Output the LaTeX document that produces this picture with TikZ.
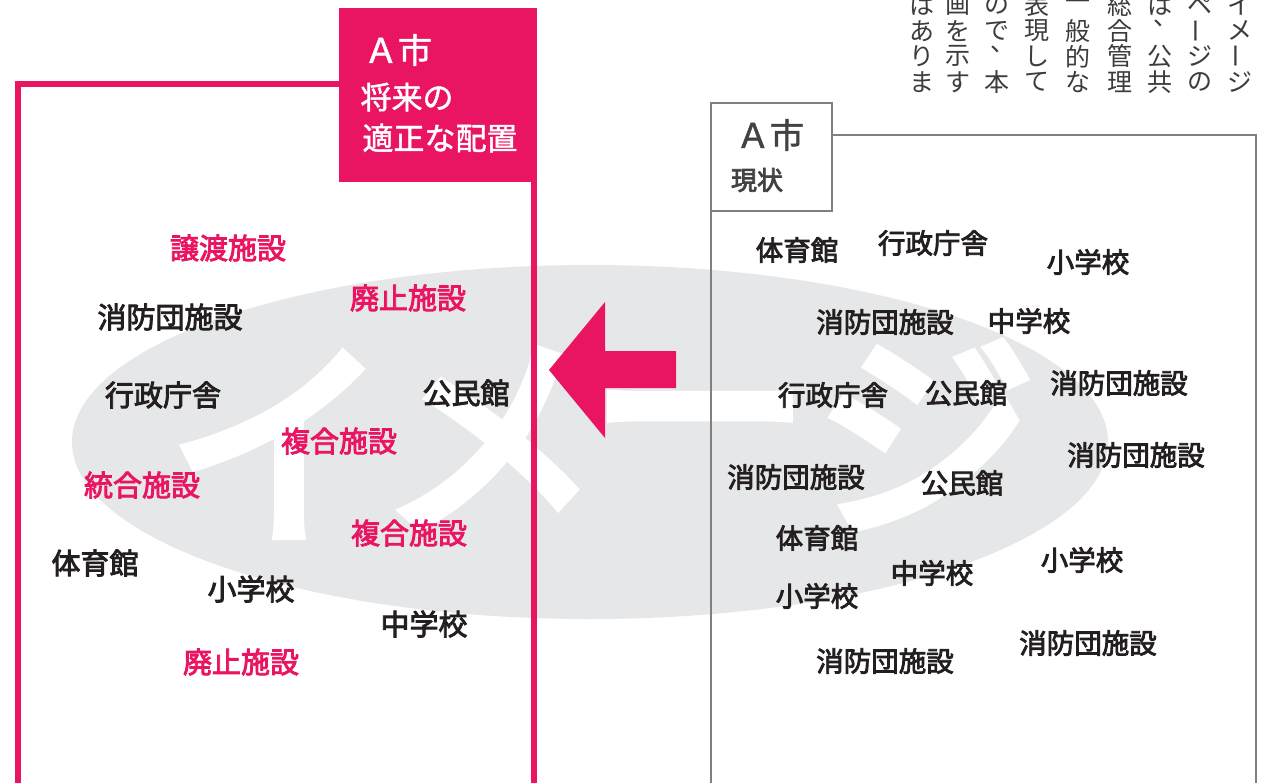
\documentclass[tikz,border=0pt]{standalone}
\usepackage{fontspec}
\newfontfamily\jp{Noto Sans CJK JP}
\newfontfamily\jpt[FakeBold=1.5]{Noto Sans CJK JP}
\newfontfamily\jpm[FakeBold=3]{Noto Sans CJK JP}
\newfontfamily\jpbig[FakeBold=5]{Noto Sans CJK JP}
\definecolor{pinkc}{HTML}{EA1562}
\definecolor{inkc}{HTML}{231F20}
\definecolor{ellc}{HTML}{E6E7E8}
\definecolor{boxgray}{HTML}{808080}
\definecolor{vtext}{HTML}{3C3C3C}
\tikzset{
  lab/.style={inner sep=0, text=inkc, font={\jpm\fontsize{29}{32}\selectfont}},
  labp/.style={lab, text=pinkc},
  labr/.style={inner sep=0, text=inkc, font={\jpm\fontsize{27.5}{30}\selectfont}},
  bigw/.style={inner sep=0, text=white, font={\jpbig\fontsize{220}{230}\selectfont}},
  vch/.style={inner sep=0, text=vtext, font={\jp\fontsize{25}{26}\selectfont}},
  tabw/.style={inner sep=0, text=white, font={\jpt\fontsize{31}{34}\selectfont}},
  tabg/.style={inner sep=0, text=inkc!85, font={\jpm\fontsize{26}{30}\selectfont}},
  pinkline/.style={draw=pinkc, line width=6pt},
  grayline/.style={draw=boxgray, line width=2.5pt},
}
\begin{document}
\begin{tikzpicture}[x=1pt,y=-1pt]
\useasboundingbox (0,0) rectangle (1284,782);
\fill[white] (0,0) rectangle (1284,782);
% background ellipse
\fill[ellc] (590,442) ellipse [x radius=518pt, y radius=177pt];
% big white text
\node[bigw] (b1) at (278,445) {イ};
\node[bigw] (b2) at (490,438) {メ};
\node[bigw] (b3) at (700,443) {ー};
\node[bigw] (b4) at (925,435) {ジ};
% left (pink) box
\coordinate (lbl) at (18,800);
\coordinate (ltl) at (18,84);
\coordinate (ltr) at (340,84);
\coordinate (lrt) at (533.5,180);
\coordinate (lrb) at (533.5,800);
\draw[pinkline] (lbl) -- (ltl) -- (ltr);
\draw[pinkline] (lrt) -- (lrb);
\fill[pinkc] (339,8) rectangle (537,182);
\node[tabw, font={\jpt\fontsize{34}{36}\selectfont}] (lt1) at (398,50) {Ａ市};
\node[tabw] (lt2) at (407,97) {将来の};
\node[tabw] (lt3) at (440,138) {適正な配置};
% right (gray) box
\coordinate (rbl) at (711,800);
\coordinate (rtl) at (711,211);
\coordinate (rtt) at (832,135);
\coordinate (rtr) at (1256,135);
\coordinate (rbr) at (1256,800);
\draw[grayline] (rtl) -- (rbl);
\draw[grayline] (rtt) -- (rtr) -- (rbr);
\draw[grayline] (711,103) rectangle (832,211);
\node[tabg, font={\jpt\fontsize{34}{36}\selectfont}] (rt1) at (770,135) {Ａ市};
\node[tabg] (rt2) at (757,180) {現状};
% arrow
\fill[pinkc] (549,370) -- (605,302) -- (605,351) -- (676,351) -- (676,388) -- (605,388) -- (605,438) -- cycle;
% left labels
\node[labp] (l1) at (228,248) {譲渡施設};
\node[labp] (l2) at (408,298) {廃止施設};
\node[lab]  (l3) at (170,317) {消防団施設};
\node[lab]  (l4) at (163,395) {行政庁舎};
\node[lab]  (l5) at (466,393) {公民館};
\node[labp] (l6) at (339,441) {複合施設};
\node[labp] (l7) at (142,485) {統合施設};
\node[labp] (l8) at (409,533) {複合施設};
\node[lab]  (l9) at (95,563) {体育館};
\node[lab]  (l10) at (251,589) {小学校};
\node[lab]  (l11) at (424,624) {中学校};
\node[labp] (l12) at (241,662) {廃止施設};
% right labels
\node[labr] (r1) at (797,250) {体育館};
\node[labr] (r2) at (933,243) {行政庁舎};
\node[labr] (r3) at (1088,262) {小学校};
\node[labr] (r4) at (885,322) {消防団施設};
\node[labr] (r5) at (1029,321) {中学校};
\node[labr] (r6) at (833,395) {行政庁舎};
\node[labr] (r7) at (966,393) {公民館};
\node[labr] (r8) at (1119,383) {消防団施設};
\node[labr] (r9) at (1136,455) {消防団施設};
\node[labr] (r10) at (796,477) {消防団施設};
\node[labr] (r11) at (962,483) {公民館};
\node[labr] (r12) at (817,538) {体育館};
\node[labr] (r13) at (1082,560) {小学校};
\node[labr] (r14) at (932,573) {中学校};
\node[labr] (r15) at (817,596) {小学校};
\node[labr] (r16) at (1088,643) {消防団施設};
\node[labr] (r17) at (885,661) {消防団施設};
% vertical text (top right)
\foreach \cx/\chars [count=\k] in {1240/{イ,メ,|,ジ}, 1200/{ペ,|,ジ,の}, 1160/{は,*,公,共},
  1120/{総,合,管,理}, 1078/{一,般,的,な}, 1037/{表,現,し,て}, 997/{の,で,*,本},
  958/{画,を,示,す}, 922/{は,あ,り,ま}} {
  \foreach \c [count=\i] in \chars {
    \pgfmathsetmacro\cy{5+25.7*(\i-1)}
    \if\c|
      \node[vch, rotate=90] (v\k-\i) at (\cx,\cy) {ー};
    \else\if\c*
      \node[vch] (v\k-\i) at (\cx+6,\cy-7) {、};
    \else
      \node[vch] (v\k-\i) at (\cx,\cy) {\c};
    \fi\fi
  }
}
\end{tikzpicture}
\end{document}
